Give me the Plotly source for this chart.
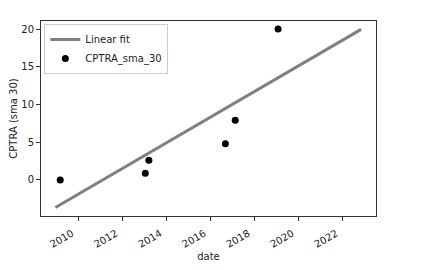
import plotly.graph_objects as go

point_dates = ["2009-03-10", "2013-01-20", "2013-03-20", "2016-09-10", "2017-02-20", "2019-02-01"]
point_values = [0.0, 0.9, 2.6, 4.8, 7.9, 20.0]
fit_dates = ["2008-12-20", "2022-11-10"]
fit_values = [-3.65, 19.95]
tick_vals = ["2010-01-01", "2012-01-01", "2014-01-01", "2016-01-01", "2018-01-01", "2020-01-01", "2022-01-01"]
tick_text = ["2010", "2012", "2014", "2016", "2018", "2020", "2022"]

fig = go.Figure()
fig.add_trace(go.Scatter(x=fit_dates, y=fit_values, mode="lines", name="Linear fit",
                         line=dict(color="#808080", width=3)))
fig.add_trace(go.Scatter(x=point_dates, y=point_values, mode="markers", name="CPTRA_sma_30",
                         marker=dict(color="black", size=7)))

axis_common = dict(showgrid=False, zeroline=False, showline=True, linecolor="#333333", linewidth=1,
                   mirror=True, ticks="outside", ticklen=4, tickcolor="#333333", automargin=False,
                   tickfont=dict(size=10, color="#222222"))
fig.update_layout(
    width=423, height=270,
    margin=dict(l=33, r=55, t=13, b=62),
    paper_bgcolor="white", plot_bgcolor="white",
    font=dict(family="DejaVu Sans", size=10, color="#222222"),
    showlegend=True,
    legend=dict(x=0.01, y=0.985, xanchor="left", yanchor="top", bgcolor="white",
                bordercolor="#cccccc", borderwidth=1, font=dict(size=10),
                itemwidth=30, tracegroupgap=0),
    xaxis=dict(range=["2008-04-25", "2023-07-15"], tickvals=tick_vals, ticktext=tick_text,
               tickangle=-30, ticklabelshift=-6, ticklabelstandoff=3,
               title=dict(text="date", font=dict(size=10), standoff=4), **axis_common),
    yaxis=dict(range=[-4.77, 21.06], tickvals=[0, 5, 10, 15, 20],
               title=dict(text="CPTRA (sma 30)", font=dict(size=10), standoff=8), **axis_common),
)
fig.write_html("out.html")
